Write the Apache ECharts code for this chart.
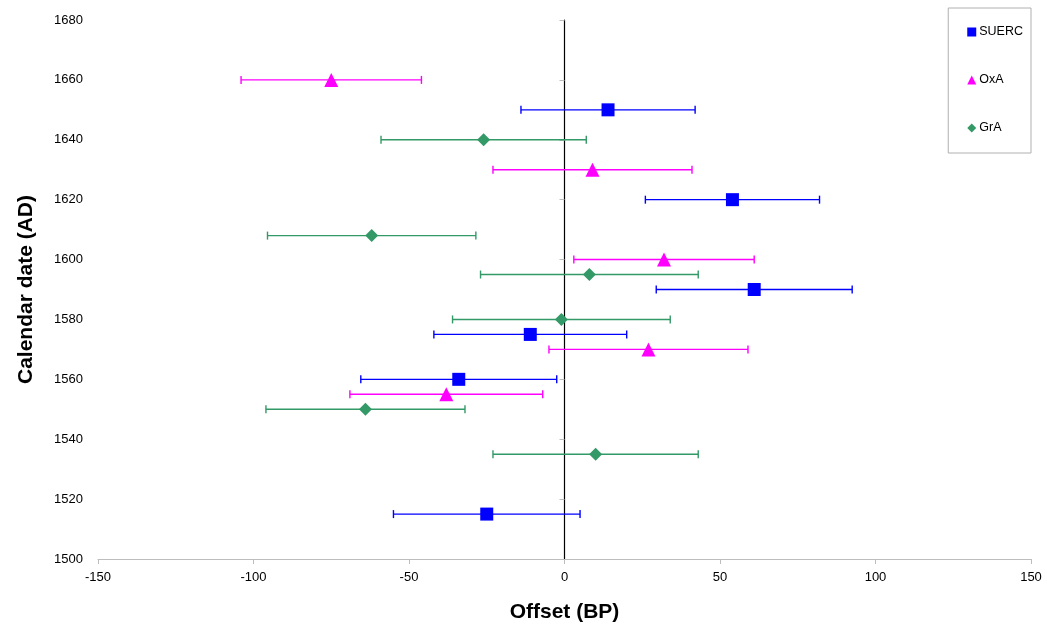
<!DOCTYPE html>
<html>
<head>
<meta charset="utf-8">
<script src="https://cdn.jsdelivr.net/npm/echarts@6/dist/echarts.min.js"></script>
<style>html,body{margin:0;padding:0;background:#fff;}#c{width:1047px;height:628px;}</style>
</head>
<body>
<div id="c"></div>
<script>
// SUERC: [offset, calendar date, error]
var suercOffset = [14, 54, 61, -11, -34, -25];
var suercDate   = [1650, 1620, 1590, 1575, 1560, 1515];
var suercErr    = [28, 28, 31.5, 31, 31.5, 30];

var oxaOffset = [-75, 9, 32, 27, -38];
var oxaDate   = [1660, 1630, 1600, 1570, 1555];
var oxaErr    = [29, 32, 29, 32, 31];

var graOffset = [-26, -62, 8, -1, -64, 10];
var graDate   = [1640, 1608, 1595, 1580, 1550, 1535];
var graErr    = [33, 33.5, 35, 35, 32, 33];

var xTicks = [-150, -100, -50, 0, 50, 100, 150];
var yTicks = [1500, 1520, 1540, 1560, 1580, 1600, 1620, 1640, 1660, 1680];

var FONT = 'Liberation Sans, Arial, sans-serif';

function rows(xs, ys, es) {
  return xs.map(function (v, i) { return [v, ys[i], es[i]]; });
}

function errSeries(name, color, data) {
  return {
    type: 'custom',
    name: name + ' err',
    data: data,
    encode: { x: 0, y: 1 },
    z: 2,
    silent: true,
    renderItem: function (params, api) {
      var x = api.value(0), y = api.value(1), e = api.value(2);
      var lo = api.coord([x - e, y]);
      var hi = api.coord([x + e, y]);
      var h = 4;
      var st = { stroke: color, lineWidth: 1.4 };
      return {
        type: 'group',
        children: [
          { type: 'line', shape: { x1: lo[0], y1: lo[1], x2: hi[0], y2: hi[1] }, style: st },
          { type: 'line', shape: { x1: lo[0], y1: lo[1] - h, x2: lo[0], y2: lo[1] + h }, style: st },
          { type: 'line', shape: { x1: hi[0], y1: hi[1] - h, x2: hi[0], y2: hi[1] + h }, style: st }
        ]
      };
    }
  };
}

function ptSeries(name, color, symbol, size, data) {
  return {
    type: 'scatter',
    name: name,
    data: data,
    symbol: symbol,
    symbolSize: size,
    itemStyle: { color: color, opacity: 1 },
    z: 5
  };
}

var chart = echarts.init(document.getElementById('c'));
chart.setOption({
  animation: false,
  backgroundColor: '#fff',
  grid: { left: 98, right: 16, top: 20, bottom: 69, containLabel: false },
  legend: {
    orient: 'vertical',
    right: 16,
    top: 8,
    padding: [16, 8, 17, 19],
    itemGap: 32,
    itemWidth: 9,
    itemHeight: 9,
    borderColor: '#b0b0b0',
    borderWidth: 1,
    textStyle: { fontFamily: FONT, fontSize: 12.5, color: '#000', padding: [0, 0, 0, -2], lineHeight: 16 },
    data: [
      { name: 'SUERC', icon: 'rect' },
      { name: 'OxA', icon: 'triangle' },
      { name: 'GrA', icon: 'diamond' }
    ]
  },
  xAxis: {
    type: 'value',
    min: -150, max: 150, interval: 50,
    name: 'Offset (BP)',
    nameLocation: 'middle',
    nameGap: 43,
    nameTextStyle: { fontFamily: FONT, fontSize: 21, fontWeight: 'bold', color: '#000' },
    axisLine: { show: true, onZero: false, lineStyle: { color: '#bdbdbd', width: 1 } },
    axisTick: { show: true, length: 5, lineStyle: { color: '#bdbdbd' } },
    axisLabel: { fontFamily: FONT, fontSize: 13, color: '#000', margin: 12 },
    splitLine: { show: false }
  },
  yAxis: [{
    type: 'value',
    min: 1500, max: 1680, interval: 20,
    name: 'Calendar date (AD)',
    nameLocation: 'middle',
    nameGap: 61,
    nameTextStyle: { fontFamily: FONT, fontSize: 21, fontWeight: 'bold', color: '#000' },
    axisLine: { show: false, onZero: false },
    axisTick: { show: false },
    axisLabel: { fontFamily: FONT, fontSize: 13, color: '#000', margin: 15, formatter: function (v) { return String(v); } },
    splitLine: { show: false }
  }, {
    type: 'value',
    min: 1500, max: 1680, interval: 20,
    position: 'left',
    axisLine: { show: true, onZero: true, lineStyle: { color: '#000', width: 1.2 } },
    axisTick: { show: true, length: 5, inside: false, lineStyle: { color: '#bdbdbd' } },
    axisLabel: { show: false },
    splitLine: { show: false }
  }],
  series: [
    errSeries('SUERC', '#0000ff', rows(suercOffset, suercDate, suercErr)),
    errSeries('OxA', '#ff00ff', rows(oxaOffset, oxaDate, oxaErr)),
    errSeries('GrA', '#339966', rows(graOffset, graDate, graErr)),
    ptSeries('SUERC', '#0000ff', 'rect', 13, rows(suercOffset, suercDate, suercErr)),
    ptSeries('OxA', '#ff00ff', 'triangle', 14, rows(oxaOffset, oxaDate, oxaErr)),
    ptSeries('GrA', '#339966', 'diamond', 13, rows(graOffset, graDate, graErr))
  ]
});
</script>
</body>
</html>
